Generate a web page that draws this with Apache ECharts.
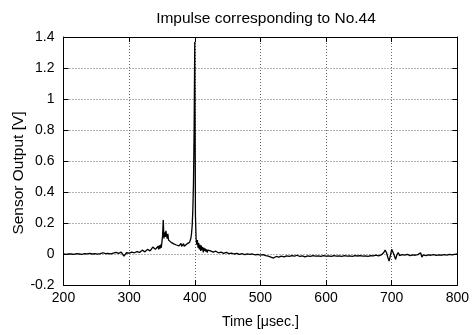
<!DOCTYPE html>
<html>
<head>
<meta charset="utf-8">
<script src="https://cdn.jsdelivr.net/npm/echarts@6/dist/echarts.min.js"></script>
<style>
html,body{margin:0;padding:0;background:#fff;}
#chart{width:472px;height:335px;}
</style>
</head>
<body>
<div id="chart"></div>
<script>
const titleText = 'Impulse corresponding to No.44';
const xAxisName = 'Time [\u03bcsec.]';
const yAxisName = 'Sensor Output [V]';
const xTicks = [200, 300, 400, 500, 600, 700, 800];
const yTicks = [-0.2, 0, 0.2, 0.4, 0.6, 0.8, 1, 1.2, 1.4];

// Section 1: 200-336 us
const timeA = [200,204,208,212,216,220,224,228,232,236,240,244,248,252,256,260,264,268,272,276,280,284,288,292,296,300,304,308,312,316,320,324,328,332,336];
const voltA = [0.000,-0.002,0.001,0.000,-0.003,0.002,0.000,-0.002,0.003,0.001,0.004,0.000,0.002,-0.001,0.003,0.008,0.002,0.004,0.001,0.006,0.010,0.004,0.012,-0.014,0.008,0.006,0.012,0.008,0.015,0.010,0.025,0.014,0.030,0.020,0.045];

// Section 2: 340-420 us (impulse region)
const timeB = [340,341,342,343,344,345,346,347,348,349,350,351,352,353,354,355,356,357,358,359,360,361,362,363,364,365,366,367,368,369,370,371,372,373,374,375,376,377,378,379,380,381,382,383,384,385,386,387,388,389,390,391,392,393,394,395,396,397,398,399,400,401,402,403,404,405,406,407,408,409,410,411,412,413,414,415,416,417,418,419,420];
const voltB = [0.030,0.018,0.040,0.025,0.050,0.030,0.055,0.035,0.060,0.040,0.080,0.120,0.220,0.100,0.140,0.110,0.150,0.120,0.100,0.130,0.090,0.100,0.080,0.095,0.075,0.085,0.070,0.080,0.065,0.075,0.060,0.070,0.058,0.068,0.055,0.065,0.052,0.062,0.055,0.068,0.050,0.060,0.052,0.066,0.050,0.058,0.060,0.052,0.065,0.055,0.062,0.070,0.075,0.085,0.100,0.130,0.180,0.280,0.450,0.800,1.370,0.250,0.100,0.060,0.090,0.040,0.070,0.030,0.060,0.020,0.055,0.025,0.045,0.010,0.040,0.020,0.035,0.015,0.030,0.010,0.025];

// Section 3: 424-800 us
const timeC = [424,428,432,436,440,444,448,452,456,460,464,468,472,476,480,484,488,492,496,500,504,508,512,516,520,524,528,532,536,540,544,548,552,556,560,564,568,572,576,580,584,588,592,596,600,604,608,612,616,620,624,628,632,636,640,644,648,652,656,660,664,668,672,676,680,684,688,690,692,694,696,698,700,702,704,706,708,710,712,716,720,724,728,732,736,740,744,746,748,752,756,760,764,768,772,776,780,784,788,792,796,800];
const voltC = [0.020,0.012,0.018,0.008,0.012,0.004,0.010,0.002,0.006,0.000,0.004,-0.002,0.002,-0.004,0.001,-0.003,0.000,-0.006,-0.002,-0.008,-0.004,-0.010,-0.014,-0.020,-0.026,-0.016,-0.020,-0.014,-0.018,-0.012,-0.016,-0.010,-0.014,-0.008,-0.016,-0.012,-0.018,-0.012,-0.016,-0.010,-0.014,-0.012,-0.016,-0.010,-0.014,-0.012,-0.016,-0.010,-0.014,-0.012,-0.015,-0.010,-0.014,-0.012,-0.016,-0.011,-0.013,-0.010,-0.014,-0.012,-0.015,-0.010,-0.012,-0.008,-0.012,-0.006,0.010,0.025,0.010,-0.020,-0.045,-0.010,0.030,0.035,-0.010,-0.035,-0.005,0.010,-0.010,-0.004,-0.008,-0.003,-0.010,-0.006,-0.008,-0.004,0.008,-0.020,-0.006,-0.010,-0.005,-0.008,-0.004,-0.009,-0.005,-0.008,-0.004,-0.008,-0.003,-0.006,-0.002,0.000];

const times = timeA.concat(timeB, timeC);
const volts = voltA.concat(voltB, voltC);
const seriesData = times.map((t, i) => [t, volts[i]]);

const FONT = 'Liberation Sans, Arial, Helvetica, sans-serif';
const chart = echarts.init(document.getElementById('chart'), null, {renderer: 'canvas'});
const gridSplit = {show: true, lineStyle: {color: '#666', type: [1, 2], width: 1}};
const hidden = {show: false};
chart.setOption({
  animation: false,
  backgroundColor: '#fff',
  title: {
    text: titleText, left: 261, top: 6, textAlign: 'center',
    textStyle: {fontFamily: FONT, fontSize: 15.5, fontWeight: 'normal', color: '#000'}
  },
  grid: {left: 63.5, right: 14, top: 37, bottom: 50, containLabel: false},
  xAxis: [{
    type: 'value', min: xTicks[0], max: xTicks[xTicks.length - 1], interval: 100,
    position: 'bottom',
    axisLine: {show: true, onZero: false, lineStyle: {color: '#000', width: 1}},
    axisTick: {show: true, inside: true, length: 5, lineStyle: {color: '#000'}},
    axisLabel: {fontFamily: FONT, fontSize: 14, color: '#000', margin: 6},
    splitLine: gridSplit,
    name: xAxisName, nameLocation: 'middle', nameGap: 30,
    nameTextStyle: {fontFamily: FONT, fontSize: 14.2, color: '#000'}
  }, {
    type: 'value', min: xTicks[0], max: xTicks[xTicks.length - 1], interval: 100,
    position: 'top',
    axisLine: {show: true, onZero: false, lineStyle: {color: '#000', width: 1}},
    axisTick: {show: true, inside: true, length: 5, lineStyle: {color: '#000'}},
    axisLabel: hidden, splitLine: hidden
  }],
  yAxis: [{
    type: 'value', min: yTicks[0], max: yTicks[yTicks.length - 1], interval: 0.2,
    position: 'left',
    axisLine: {show: true, onZero: false, lineStyle: {color: '#000', width: 1}},
    axisTick: {show: true, inside: true, length: 5, lineStyle: {color: '#000'}},
    axisLabel: {fontFamily: FONT, fontSize: 14, color: '#000', margin: 9,
      formatter: v => String(Math.round(v * 10) / 10)},
    splitLine: gridSplit
  }, {
    type: 'value', min: yTicks[0], max: yTicks[yTicks.length - 1], interval: 0.2,
    position: 'right',
    axisLine: {show: true, onZero: false, lineStyle: {color: '#000', width: 1}},
    axisTick: {show: true, inside: true, length: 5, lineStyle: {color: '#000'}},
    axisLabel: hidden, splitLine: hidden
  }],
  graphic: [{
    type: 'text', x: 18.5, y: 173, rotation: Math.PI / 2,
    style: {text: yAxisName, fontFamily: FONT, fontSize: 15.5, fill: '#000',
      align: 'center', verticalAlign: 'middle'}
  }],
  series: [{
    type: 'line', xAxisIndex: 0, yAxisIndex: 0,
    data: seriesData, showSymbol: false, symbol: 'none',
    lineStyle: {color: '#000', width: 1.3}, z: 5
  }]
});
</script>
</body>
</html>
